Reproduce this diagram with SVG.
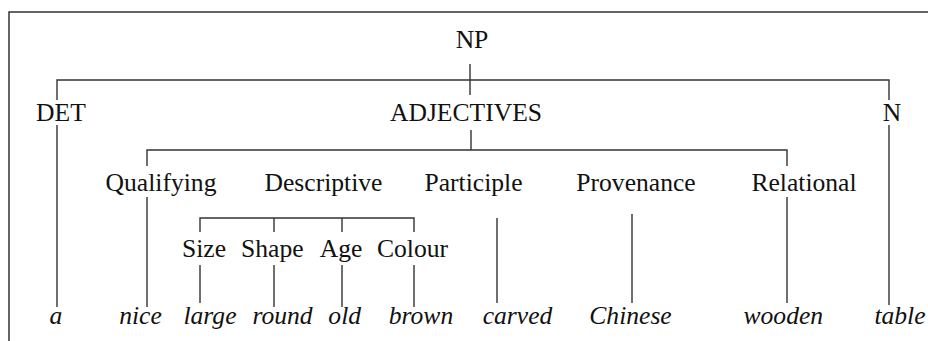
<svg xmlns="http://www.w3.org/2000/svg" width="928" height="341" viewBox="0 0 928 341">
  <style>
    .frame { fill: none; stroke: #333; stroke-width: 1.5; }
    .edge { fill: none; stroke: #333; stroke-width: 1.4; }
    text { font-family: "Liberation Serif", "Times New Roman", serif; font-size: 25.6px; fill: #111; text-anchor: middle; }
    .word { font-style: italic; }
  </style>
  <rect width="928" height="341" fill="#fff"/>
  <!-- open frame: top and left sides -->
  <path class="frame" d="M9,341 V12 H928"/>

  <g id="connectors">
    <!-- NP to its three daughters -->
    <path class="edge" d="M470,64 V95"/>
    <path class="edge" d="M57,100 V80 H889 V100"/>
    <path class="edge" d="M57,125 V307"/>
    <path class="edge" d="M889,125 V305"/>
    <!-- ADJECTIVES bar -->
    <path class="edge" d="M471,130 V150"/>
    <path class="edge" d="M147,166 V150 H787 V166"/>
    <!-- Qualifying / Relational -->
    <path class="edge" d="M147,197 V307"/>
    <path class="edge" d="M787,197 V303"/>
    <!-- Descriptive sub-categories -->
    <path class="edge" d="M200,232 V218 H414 V232"/>
    <path class="edge" d="M274,218 V232"/>
    <path class="edge" d="M342,218 V232"/>
    <path class="edge" d="M200,265 V303"/>
    <path class="edge" d="M274,265 V307"/>
    <path class="edge" d="M342,265 V307"/>
    <path class="edge" d="M414,265 V307"/>
    <!-- Participle / Provenance -->
    <path class="edge" d="M497,218 V303"/>
    <path class="edge" d="M632,214 V303"/>
  </g>

  <g id="np"><text x="472" y="48">NP</text></g>
  <g id="det"><text x="61" y="121">DET</text></g>
  <g id="adjectives"><text x="466" y="121">ADJECTIVES</text></g>
  <g id="n"><text x="892" y="121">N</text></g>

  <g id="qualifying"><text x="161" y="191">Qualifying</text></g>
  <g id="descriptive"><text x="323.5" y="191">Descriptive</text></g>
  <g id="participle"><text x="473.5" y="191">Participle</text></g>
  <g id="provenance"><text x="636" y="191">Provenance</text></g>
  <g id="relational"><text x="804" y="191">Relational</text></g>

  <g id="size"><text x="204" y="257">Size</text></g>
  <g id="shape"><text x="272.3" y="257">Shape</text></g>
  <g id="age"><text x="341" y="257">Age</text></g>
  <g id="colour"><text x="412.5" y="257">Colour</text></g>

  <g id="w-a"><text class="word" x="56" y="324">a</text></g>
  <g id="w-nice"><text class="word" x="140.5" y="324">nice</text></g>
  <g id="w-large"><text class="word" x="210" y="324">large</text></g>
  <g id="w-round"><text class="word" x="282.5" y="324">round</text></g>
  <g id="w-old"><text class="word" x="344.7" y="324">old</text></g>
  <g id="w-brown"><text class="word" x="421" y="324">brown</text></g>
  <g id="w-carved"><text class="word" x="517.5" y="324">carved</text></g>
  <g id="w-chinese"><text class="word" x="630.5" y="324">Chinese</text></g>
  <g id="w-wooden"><text class="word" x="783.3" y="324">wooden</text></g>
  <g id="w-table"><text class="word" x="900" y="324">table</text></g>
</svg>
